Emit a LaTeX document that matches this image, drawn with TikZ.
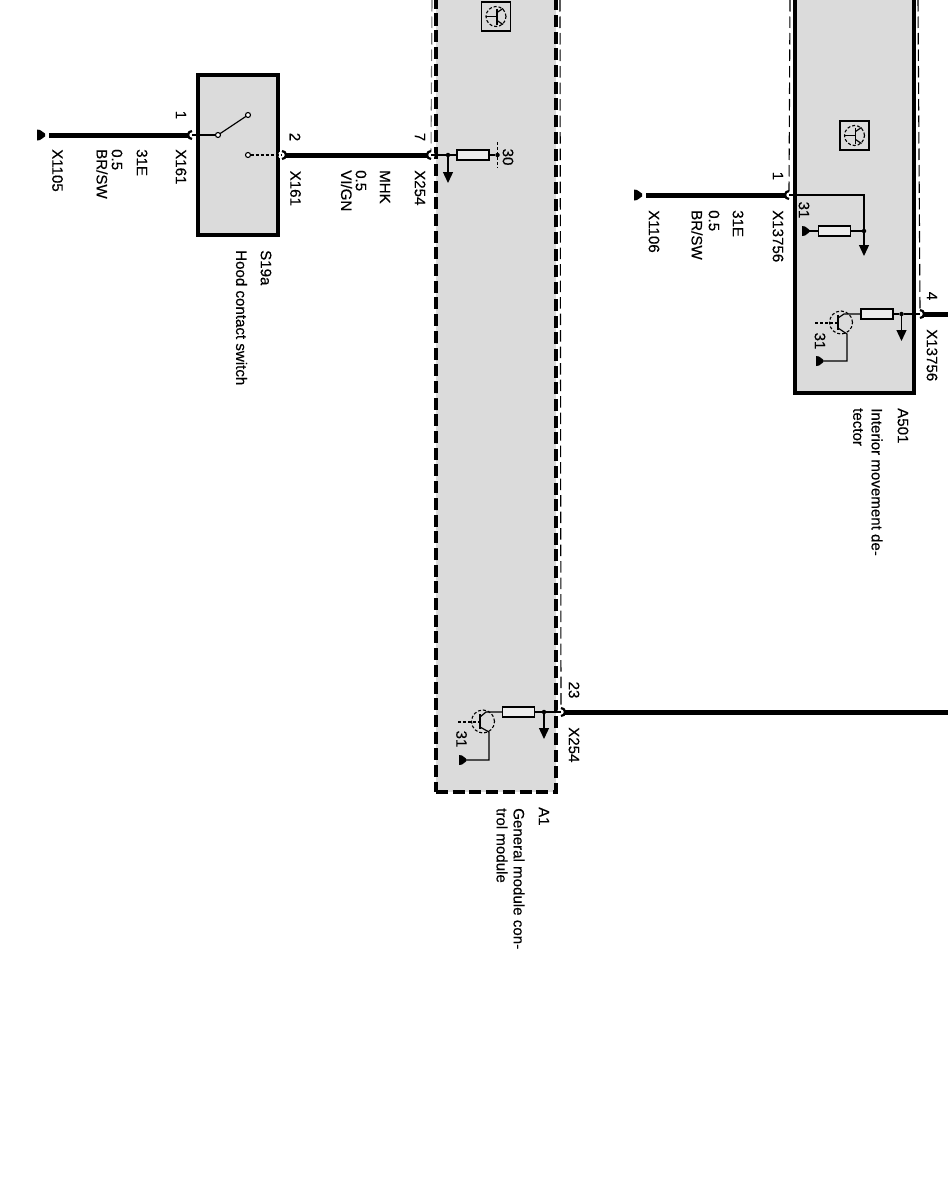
\documentclass[tikz,border=0pt]{standalone}
\usepackage{fontspec}
\setmainfont{Liberation Sans}[FakeBold=0.35]
\usetikzlibrary{arrows.meta,calc}
\begin{document}
\begin{tikzpicture}[x=1pt,y=-1pt]
	\tikzstyle{box} = [rectangle, draw=black, fill=black!14, line width=3.2pt, inner sep=0pt, outer sep=0pt]
	\tikzstyle{dbox} = [box, dash pattern=on 12pt off 4.7pt]
	\tikzstyle{res} = [rectangle, draw=black, fill=black!7, line width=1.2pt, minimum width=32pt, minimum height=10pt, inner sep=0pt, outer sep=0pt]
	\tikzstyle{pin} = [circle, fill=white, minimum size=8pt, inner sep=0pt, outer sep=0pt]
	\tikzstyle{dot} = [circle, fill=black, minimum size=4.5pt, inner sep=0pt, outer sep=0pt]
	\tikzstyle{contact} = [circle, draw=black, fill=white, line width=1.1pt, minimum size=5pt, inner sep=0pt, outer sep=0pt]
	\tikzstyle{trans} = [circle, draw=black, densely dashed, line width=1.1pt, minimum size=23pt, inner sep=0pt, outer sep=0pt]
	\tikzstyle{itrans} = [trans, minimum size=20pt]
	\tikzstyle{icon} = [rectangle, draw=black, line width=1.1pt, minimum size=29pt, inner sep=0pt, outer sep=0pt]
	\tikzstyle{wire} = [line width=5pt]
	\tikzstyle{thinw} = [line width=1.2pt]
	\tikzstyle{shield} = [line width=1.1pt, dash pattern=on 11.5pt off 5pt]
	\tikzstyle{pinarc} = [line width=2.2pt]
	\tikzstyle{gnd} = [fill=black]
	\tikzstyle{arrow} = [line width=1.3pt, -{Triangle[length=11pt,width=10pt]}]
	\tikzstyle{lbl} = [rotate=-90, anchor=west, inner sep=0pt, font=\fontsize{15.1}{15.1}\selectfont]
	\tikzstyle{clbl} = [lbl, anchor=center]
	\clip (0,0) rectangle (948,1183);
	\fill[white] (0,0) rectangle (948,1183);

	\node(s19a)[box, minimum width=80pt, minimum height=160pt] at (238,155) {};
	\node(a1)[dbox, minimum width=120pt, minimum height=812pt] at (496,386) {};
	\node(a501)[box, minimum width=119pt, minimum height=413pt] at (854.5,186.5) {};

	\node(p1)[pin] at (192,135) {};
	\node(p2)[pin] at (282,155) {};
	\node(p7)[pin] at (431,155) {};
	\node(p23)[pin] at (561,712) {};
	\node(q1)[pin] at (789,195) {};
	\node(q4)[pin] at (920,314) {};

	\coordinate (g1) at (37,135);
	\coordinate (g2) at (634,195);
	\coordinate (a1tl) at (432,0);
	\coordinate (a1tr) at (560,0);
	\coordinate (a5tl) at (790,0);
	\coordinate (a5tr) at (918,0);
	\coordinate (wr1) at (948,712);
	\coordinate (wr2) at (948,314);

	\draw [shield, black!55] (a1tl) -- (p7.north);
	\draw [shield] (a1tr) -- (p23.north);
	\draw [shield] (a5tl) -- (q1.north);
	\draw [shield] (a5tr) -- (q4.north);

	\fill [gnd] ($(g1)+(0,-5.5)$) -- ($(g1)+(0,5.5)$) -- ($(g1)+(3,5)$) -- ($(g1)+(8,1.5)$) -- ($(g1)+(8,-1.5)$) -- ($(g1)+(3,-5)$) -- cycle;
	\fill [gnd] ($(g2)+(0,-5.5)$) -- ($(g2)+(0,5.5)$) -- ($(g2)+(3,5)$) -- ($(g2)+(8,1.5)$) -- ($(g2)+(8,-1.5)$) -- ($(g2)+(3,-5)$) -- cycle;
	\draw [wire] ($(g1)+(12,0)$) -- (p1.west);
	\draw [wire] (p2.east) -- (p7.west);
	\draw [wire] (p23.east) -- (wr1);
	\draw [wire] ($(g2)+(12,0)$) -- (q1.west);
	\draw [wire] (q4.east) -- (wr2);
	\draw [pinarc] (p1.north) arc[start angle=90,end angle=270,radius=4pt];
	\draw [pinarc] (p2.north) arc[start angle=90,end angle=-90,radius=4pt];
	\draw [pinarc] (p7.north) arc[start angle=90,end angle=270,radius=4pt];
	\draw [pinarc] (p23.north) arc[start angle=90,end angle=-90,radius=4pt];
	\draw [pinarc] (q1.north) arc[start angle=90,end angle=270,radius=4pt];
	\draw [pinarc] (q4.north) arc[start angle=90,end angle=-90,radius=4pt];

	\node(c1)[contact] at (218,135) {};
	\node(c2)[contact] at (248,115) {};
	\node(c3)[contact] at (248,155) {};
	\draw [thinw] (p1.center) -- (c1);
	\draw [thinw] (c1) -- (c2);
	\draw [thinw, densely dashed] (c3) -- (p2.center);

	\node(i1)[icon] at (496,16.5) {};
	\node(it1)[itrans] at (496,16.5) {};
	\draw [thinw] (it1.west) -- ++(11,0);
	\draw [thinw] ($(it1)+(1,-8)$) -- ($(it1)+(1,8)$);
	\draw [thinw] ($(it1)+(1,-4)$) -- ($(it1)+(7,-8)$);
	\draw [thinw] ($(it1)+(1,4)$) -- ($(it1)+(7,8)$);
	\node(i2)[icon] at (854.5,135.5) {};
	\node(it2)[itrans] at (854.5,135.5) {};
	\draw [thinw] (it2.west) -- ++(11,0);
	\draw [thinw] ($(it2)+(1,-8)$) -- ($(it2)+(1,8)$);
	\draw [thinw] ($(it2)+(1,-4)$) -- ($(it2)+(7,-8)$);
	\draw [thinw] ($(it2)+(1,4)$) -- ($(it2)+(7,8)$);

	\node(d7)[dot] at (448,155) {};
	\node(r7)[res] at (473,155) {};
	\node(d30)[dot] at (497.5,155) {};
	\coordinate (a7) at (448,183);
	\coordinate (b30t) at (497.5,142);
	\coordinate (b30b) at (497.5,168);
	\draw [thinw] (p7.center) -- (d7);
	\draw [thinw] (d7) -- (r7);
	\draw [thinw] (r7) -- (d30);
	\draw [thinw, densely dashed] (b30t) -- (b30b);
	\draw [arrow] (d7) -- (a7);

	\node(d23)[dot] at (544,712) {};
	\node(r23)[res] at (518.5,712) {};
	\node(t1)[trans] at (483,721.5) {};
	\coordinate (a23) at (544,739);
	\coordinate (tb1) at (458,722);
	\coordinate (g3) at (459,760);
	\coordinate (te1) at (489,760);
	\draw [thinw] (p23.center) -- (d23);
	\draw [thinw] (d23) -- (r23);
	\draw [thinw] (r23) -- (486,712) -- (480,717);
	\draw [arrow] (d23) -- (a23);
	\draw [thinw] (480,714) -- (480,729);
	\draw [thinw, densely dashed] (tb1) -- (480,722);
	\draw [thinw] (480,727) -- (489,732) -- (te1) -- (g3);
	\fill [gnd] ($(g3)+(0,-5)$) -- ($(g3)+(0,5)$) -- ($(g3)+(3,4.5)$) -- ($(g3)+(7,1.5)$) -- ($(g3)+(7,-1.5)$) -- ($(g3)+(3,-4.5)$) -- cycle;

	\node(d31)[dot] at (864,231) {};
	\node(r31)[res] at (834.5,231) {};
	\coordinate (k1) at (864,195);
	\coordinate (a31) at (864,256);
	\coordinate (g4) at (802,231);
	\draw [thinw] (q1.center) -- (k1) -- (d31);
	\draw [thinw] (d31) -- (r31);
	\draw [thinw] (r31) -- (g4);
	\fill [gnd] ($(g4)+(0,-5)$) -- ($(g4)+(0,5)$) -- ($(g4)+(3,4.5)$) -- ($(g4)+(7,1.5)$) -- ($(g4)+(7,-1.5)$) -- ($(g4)+(3,-4.5)$) -- cycle;
	\draw [arrow] (d31) -- (a31);

	\node(d4)[dot] at (901.5,314) {};
	\node(r4)[res] at (877,314) {};
	\node(t2)[trans] at (841,322.5) {};
	\coordinate (a4) at (901.5,341);
	\coordinate (tb2) at (815,323);
	\coordinate (g5) at (816,361);
	\coordinate (te2) at (847,361);
	\draw [thinw] (q4.center) -- (d4);
	\draw [thinw] (d4) -- (r4);
	\draw [thinw] (r4) -- (844,314) -- (838,318);
	\draw [arrow] (d4) -- (a4);
	\draw [thinw] (838,314.5) -- (838,330);
	\draw [thinw, densely dashed] (tb2) -- (838,323);
	\draw [thinw] (838,328) -- (847,334) -- (te2) -- (g5);
	\fill [gnd] ($(g5)+(0,-5)$) -- ($(g5)+(0,5)$) -- ($(g5)+(3,4.5)$) -- ($(g5)+(7,1.5)$) -- ($(g5)+(7,-1.5)$) -- ($(g5)+(3,-4.5)$) -- cycle;

	\node(n1)[clbl] at (181,115) {1};
	\node(xa)[lbl] at (181,149) {X161};
	\node(wa1)[lbl] at (142,149) {31E};
	\node(wa2)[lbl] at (117,149) {0.5};
	\node(wa3)[lbl] at (102,149) {BR/SW};
	\node(xb)[lbl] at (57.5,149) {X1105};
	\node(n2)[clbl] at (295,137) {2};
	\node(xc)[lbl] at (295.5,170.5) {X161};
	\node(sa)[lbl] at (266,250) {S19a};
	\node(sb)[lbl] at (241.5,250) {Hood contact switch};

	\node(n7)[clbl] at (420,137) {7};
	\node(xd)[lbl] at (420,170) {X254};
	\node(wb1)[lbl] at (385,170) {MHK};
	\node(wb2)[lbl] at (361,170) {0.5};
	\node(wb3)[lbl] at (346.5,170) {VI/GN};
	\node(n30)[clbl] at (508,157) {30};

	\node(n23)[clbl] at (574,690) {23};
	\node(xe)[lbl] at (574,727) {X254};
	\node(n31a)[clbl] at (461.5,739) {31};
	\node(aa)[lbl] at (544,807) {A1};
	\node(ab)[lbl] at (519,808) {General module con-};
	\node(ac)[lbl] at (502,808) {trol module};

	\node(m1)[clbl] at (778,176) {1};
	\node(xf)[lbl] at (778,210) {X13756};
	\node(wc1)[lbl] at (738,210) {31E};
	\node(wc2)[lbl] at (714,210) {0.5};
	\node(wc3)[lbl] at (697,210) {BR/SW};
	\node(xg)[lbl] at (654,210) {X1106};
	\node(n31b)[clbl] at (804,210) {31};
	\node(n31c)[clbl] at (820,341) {31};
	\node(m4)[clbl] at (932,296) {4};
	\node(xh)[lbl] at (932,329) {X13756};
	\node(ba)[lbl] at (903,408) {A501};
	\node(bb)[lbl] at (877,408) {Interior movement de-};
	\node(bc)[lbl] at (858,408) {tector};
\end{tikzpicture}
\end{document}
